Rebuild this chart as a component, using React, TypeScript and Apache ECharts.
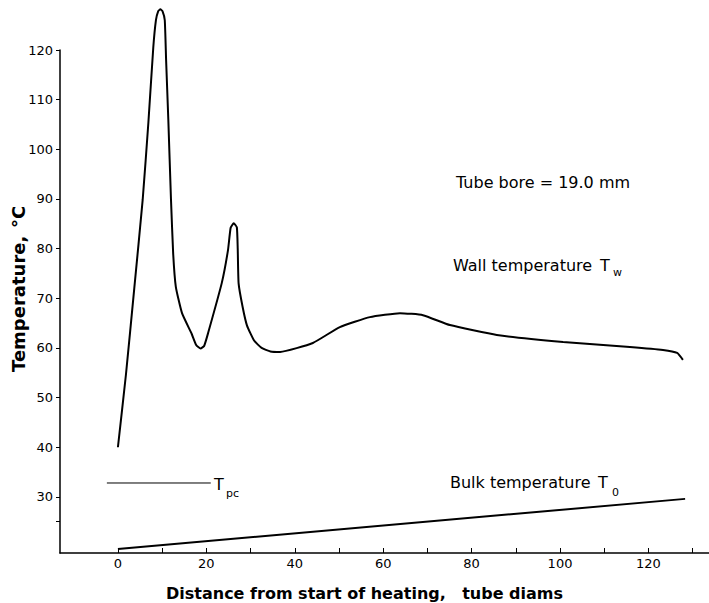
import React, { useEffect, useRef } from "react";
import * as echarts from "echarts";

const wallTemp: [number, number][] = [
  [0, 40], [1.8, 54.5], [3.7, 72], [5.6, 89.8], [6.9, 105.5], [8.0, 120.5], [8.6, 126.0],
  [9.1, 127.8], [9.6, 128.2], [10.1, 127.8], [10.6, 126], [10.9, 118], [11.4, 106],
  [12.0, 90], [12.5, 79], [13.1, 72.3], [14.5, 67.0], [16.7, 62.8], [17.7, 60.6],
  [18.7, 59.9], [19.5, 60.4], [20.4, 63.0], [23.5, 73.1], [24.9, 79.7], [25.5, 84.2],
  [26.2, 85.1], [26.9, 84.3], [27.1, 80], [27.3, 73], [28.2, 68.3], [29.2, 64.5],
  [30.8, 61.5], [32.5, 60.0], [34.5, 59.3], [36.7, 59.2], [44.1, 61.0], [50.2, 64.2],
  [57.0, 66.2], [63.8, 67.0], [69.0, 66.6], [75.1, 64.6], [85.7, 62.6], [100.7, 61.2],
  [115.8, 60.2], [123.3, 59.6], [126.5, 59.0], [127.8, 57.6],
];
const bulkTemp: [number, number][] = [[0, 19.5], [128.3, 29.6]];
const pseudoCritical: [number, number][] = [[-2.5, 32.8], [21, 32.8]];

const xTicks = [0, 10, 20, 30, 40, 50, 60, 70, 80, 90, 100, 110, 120, 130];
const xLabels = [0, 20, 40, 60, 80, 100, 120];
const yTicks = [25, 30, 40, 50, 60, 70, 80, 90, 100, 110, 120];
const yLabels = [30, 40, 50, 60, 70, 80, 90, 100, 110, 120];

const FONT = "DejaVu Sans";

export default function App() {
  const ref = useRef<HTMLDivElement>(null);
  useEffect(() => {
    document.body.style.margin = "0";
    const chart = echarts.init(ref.current!, undefined, { renderer: "svg" });
    const txt = (x: number, y: number, text: string, size: number, extra: any = {}) => ({
      type: "text",
      x,
      y,
      rotation: extra.rotation || 0,
      style: {
        text,
        fill: "#000",
        font: `${extra.weight || "normal"} ${size}px "${FONT}"`,
        textAlign: extra.align || "left",
        textVerticalAlign: "middle",
      },
    });
    chart.setOption({
      animation: false,
      backgroundColor: "#fff",
      grid: { left: 60, top: 50, right: 0, bottom: 50 },
      xAxis: {
        type: "value",
        min: -13.1,
        max: 133.7,
        splitLine: { show: false },
        axisLine: { onZero: false, lineStyle: { color: "#000", width: 1.5 } },
        axisTick: { inside: true, length: 5, customValues: xTicks, lineStyle: { color: "#000" } },
        axisLabel: { customValues: xLabels, color: "#000", fontFamily: FONT, fontSize: 13, margin: 4 },
      },
      yAxis: {
        type: "value",
        min: 18.7,
        max: 120,
        splitLine: { show: false },
        axisLine: { show: true, onZero: false, lineStyle: { color: "#000", width: 1.5 } },
        axisTick: { show: true, length: 4, customValues: yTicks, lineStyle: { color: "#000" } },
        axisLabel: { customValues: yLabels, color: "#000", fontFamily: FONT, fontSize: 13, margin: 7 },
      },
      series: [
        {
          type: "line",
          data: wallTemp,
          smooth: 0.15,
          symbol: "none",
          clip: false,
          lineStyle: { color: "#000", width: 2 },
        },
        {
          type: "line",
          data: bulkTemp,
          symbol: "none",
          lineStyle: { color: "#000", width: 2 },
        },
        {
          type: "line",
          data: pseudoCritical,
          symbol: "none",
          lineStyle: { color: "#000", width: 1 },
        },
      ],
      graphic: [
        txt(456, 182, "Tube bore = 19.0 mm", 16),
        txt(453, 265, "Wall temperature", 16),
        txt(600, 265, "T", 16),
        txt(613, 272, "w", 11),
        txt(450, 482, "Bulk temperature", 16),
        txt(598, 482, "T", 16),
        txt(612, 492, "0", 11),
        txt(214, 484, "T", 16),
        txt(226, 493, "pc", 11),
        txt(166, 593, "Distance from start of heating,", 16, { weight: "bold" }),
        txt(563, 593, "tube diams", 16, { weight: "bold", align: "right" }),
        txt(18, 372, "Temperature,", 18, { weight: "bold", rotation: Math.PI / 2 }),
        txt(18, 228, "°C", 18, { weight: "bold", rotation: Math.PI / 2 }),
      ],
    });
    return () => chart.dispose();
  }, []);
  return <div ref={ref} style={{ width: 709, height: 603 }} />;
}
